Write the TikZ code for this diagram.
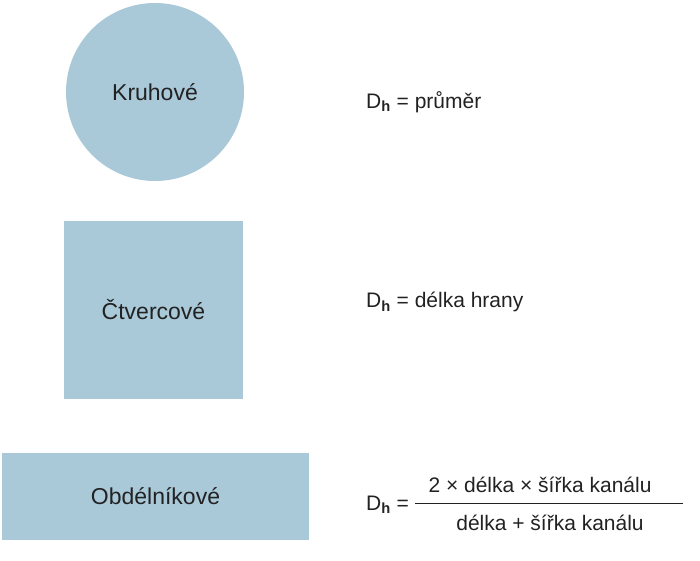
\documentclass[tikz,border=0pt]{standalone}
\usepackage{fontspec}
\setmainfont{Liberation Sans}
\definecolor{shape}{HTML}{A9C8D8}
\definecolor{txt}{HTML}{222222}
\begin{document}
\begin{tikzpicture}[x=1pt,y=-1pt,
  shp/.style={fill=shape,draw=none},
  lbl/.style={font=\fontsize{23}{26}\selectfont,text=txt},
  eq/.style={font=\fontsize{21}{24}\selectfont,text=txt,anchor=west,inner sep=0}]
\useasboundingbox (0,0) rectangle (700,560);
\node[shp,circle,minimum size=178pt,inner sep=0] (kr) at (155,92) {};
\node[lbl] (krt) at (kr) {Kruhové};
\node[shp,rectangle,minimum width=179pt,minimum height=178pt,inner sep=0] (ct) at (153.5,310) {};
\node[lbl] (ctt) at (ct) {Čtvercové};
\node[shp,rectangle,minimum width=307pt,minimum height=87pt,inner sep=0] (ob) at (155.5,496.5) {};
\node[lbl] (obt) at (ob) {Obdélníkové};
\node[eq] (e1) at (366,102) {D\textsubscript{\textbf{h}} = průměr};
\node[eq] (e2) at (366,302) {D\textsubscript{\textbf{h}} = délka hrany};
\node[eq] (e3) at (366,505) {D\textsubscript{\textbf{h}} =};
\coordinate (fl) at (415,503);
\coordinate (fr) at (683,503);
\draw[txt,line width=0.8pt] (fl) -- (fr);
\node[eq,anchor=center] (num) at (540,485) {2 × délka × šířka kanálu};
\node[eq,anchor=center] (den) at (550,523) {délka + šířka kanálu};
\end{tikzpicture}
\end{document}
